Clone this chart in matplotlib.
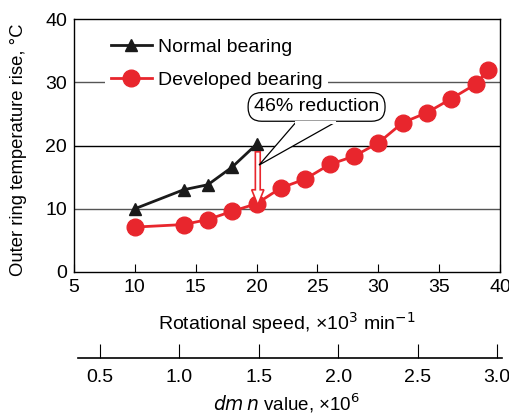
import matplotlib
matplotlib.use("Agg")
import matplotlib.pyplot as plt
from matplotlib.patches import FancyArrow, Polygon

plt.rcParams['font.family'] = ['Liberation Sans', 'DejaVu Sans']

normal_speed = [10, 14, 16, 18, 20]
normal_temp = [10.0, 13.0, 13.8, 16.6, 20.2]
dev_speed = [10, 14, 16, 18, 20, 22, 24, 26, 28, 30, 32, 34, 36, 38, 39]
dev_temp = [7.1, 7.5, 8.3, 9.6, 10.8, 13.3, 14.7, 17.0, 18.3, 20.4, 23.6, 25.2, 27.4, 29.7, 31.9]
x_ticks = [5, 10, 15, 20, 25, 30, 35, 40]
y_ticks = [0, 10, 20, 30, 40]
dmn_ticks = [0.5, 1.0, 1.5, 2.0, 2.5, 3.0]

FS = 14
W, H = 510, 416
fig = plt.figure(figsize=(W/100, H/100), dpi=100)
ax = fig.add_axes([74/W, 1-272/H, (500-74)/W, (272-19)/H])
ax.set_xlim(5, 40)
ax.set_ylim(0, 40)
for yv, c in [(10, '#555555'), (20, 'black'), (30, '#555555')]:
    ax.axhline(yv, color=c, lw=1.0, zorder=1)
red = '#e8262d'
ax.plot(normal_speed, normal_temp, color='#1a1a1a', lw=2, marker='^', ms=9, zorder=3, label='Normal bearing')
ax.plot(dev_speed, dev_temp, color=red, lw=2, marker='o', ms=12, zorder=3, label='Developed bearing')
ax.set_xticks(x_ticks)
ax.set_yticks(y_ticks)
ax.tick_params(axis='x', direction='in', length=6, labelsize=FS, pad=5)
ax.tick_params(axis='y', length=0, labelsize=FS, pad=5)
for s in ax.spines.values():
    s.set_linewidth(1.0)
fig.text(287/W, 1-323/H, 'Rotational speed, \u00d710$^3$ min$^{-1}$', fontsize=FS, ha='center', va='center')
fig.text(19/W, 1-150/H, 'Outer ring temperature rise, \u00b0C', fontsize=13.3, ha='center', va='center', rotation=90)
leg = ax.legend(loc='upper left', bbox_to_anchor=(0.05, 0.985), frameon=True, fontsize=FS,
                handlelength=2.1, labelspacing=0.8, borderpad=0.3, handletextpad=0.3)
leg.get_frame().set_edgecolor('none')
leg.get_frame().set_facecolor('white')
leg.get_frame().set_alpha(1)
leg.set_zorder(4)

# hollow arrow
ax.add_patch(FancyArrow(20.1, 19.0, 0, -8.4, width=0.4, head_width=1.0, head_length=2.4,
                        length_includes_head=True, facecolor='white', edgecolor=red, lw=1.2, zorder=5))
# callout
ax.add_patch(Polygon([[23.2, 23.6], [20.2, 16.9], [26.4, 23.6]], closed=True, facecolor='white',
                     edgecolor='black', lw=0.9, zorder=6))
ax.text(24.93, 26.1, '46% reduction', fontsize=FS, ha='center', va='center', zorder=7,
        bbox=dict(boxstyle='round,pad=0.3,rounding_size=0.7', facecolor='white', edgecolor='black', lw=0.9))
ax.plot([23.25, 26.35], [23.65, 23.65], color='white', lw=2.2, zorder=8)

# secondary dmn axis
ax2 = fig.add_axes([78/W, 1-358/H, (502-78)/W, 0.0001])
lo = 0.5 - 22/158.8
hi = 3.0 + 5/158.8
ax2.set_xlim(lo, hi)
ax2.set_yticks([])
for k in ['top', 'left', 'right']:
    ax2.spines[k].set_visible(False)
ax2.spines['bottom'].set_linewidth(1.2)
ax2.set_xticks(dmn_ticks)
ax2.set_xticklabels([f'{v:.1f}' for v in dmn_ticks])
ax2.tick_params(axis='x', direction='in', length=10, labelsize=FS, pad=8)
ax2.patch.set_visible(False)
fig.text(287/W, 1-403/H, '$dm$$\\,n$ value, \u00d710$^6$', fontsize=13.5, ha='center', va='center')

fig.savefig('out.png', dpi=100)
